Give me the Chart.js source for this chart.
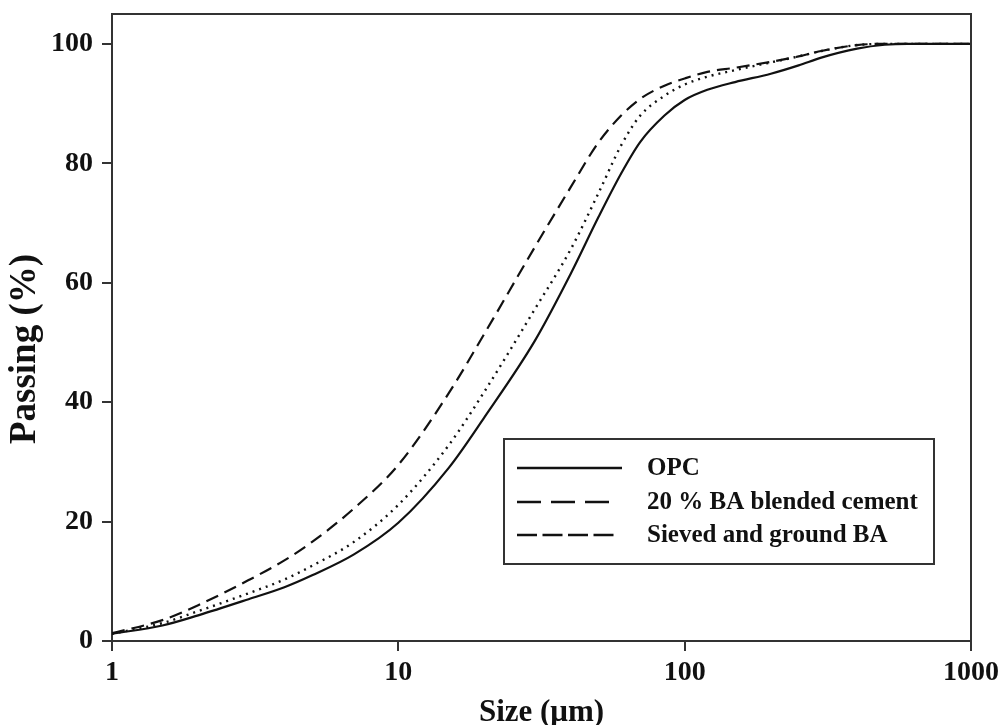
<!DOCTYPE html>
<html><head><meta charset="utf-8">
<script src="https://cdn.jsdelivr.net/npm/chart.js@4/dist/chart.umd.min.js"></script>
<style>html,body{margin:0;padding:0;background:#fff;overflow:hidden}</style>
</head><body>
<canvas id="c" width="1005" height="725"></canvas>
<script>
// ---- data ----
const sizes   = [1,1.5,2,3,4,5,7,10,15,20,30,40,50,60,70,85,100,120,150,200,250,300,400,500,600,1000];
const opc     = [1.2,2.6,4.3,7.0,9.0,11.0,14.5,19.8,29.0,37.5,50.3,61.5,71.0,78.3,83.6,88.0,90.6,92.3,93.6,95.0,96.4,97.7,99.2,99.85,100,100];
const blended = [1.3,3.5,6.0,10.2,13.5,16.6,22.2,29.5,41.5,51.5,66.0,76.0,83.5,88.0,90.8,93.0,94.2,95.3,96.0,97.0,97.9,98.8,99.8,100,100,100];
const sieved  = [1.2,3.0,5.0,8.0,10.3,12.6,16.6,22.8,32.8,41.8,55.6,65.6,75.0,83.0,88.0,91.3,93.2,94.5,95.6,96.9,97.9,98.8,99.8,100,100,100];
const seriesLabels = ['OPC','20 % BA blended cement','Sieved and ground BA'];
const xTickValues = [1,10,100,1000];
const yTickValues = [0,20,40,60,80,100];
const xTitle = 'Size (\u03bcm)';
const yTitle = 'Passing (%)';

const FONT = '"Liberation Serif","Times New Roman",serif';
const INK = '#111';
const AXIS = '#333';

const toPts = arr => arr.map((v,i)=>({x:sizes[i], y:v}));

const frameAndExtras = {
  id:'frameAndExtras',
  afterDraw(chart){
    const {ctx, chartArea:a} = chart;
    ctx.save();
    ctx.strokeStyle = AXIS; ctx.lineWidth = 2;
    ctx.beginPath();
    ctx.moveTo(a.left, a.top); ctx.lineTo(a.right, a.top); ctx.lineTo(a.right, a.bottom);
    ctx.stroke();
    ctx.translate(25, 349);
    ctx.rotate(-Math.PI/2);
    ctx.fillStyle = INK;
    ctx.font = 'bold 37px ' + FONT;
    ctx.textAlign = 'center'; ctx.textBaseline = 'middle';
    ctx.fillText(yTitle, 0, 0);
    ctx.restore();

    const lx = 504, ly = 439, lw = 430, lh = 125;
    ctx.save();
    ctx.strokeStyle = AXIS; ctx.lineWidth = 2;
    ctx.strokeRect(lx, ly, lw, lh);
    const rows = [468, 502, 535];
    const dashes = [[], [24,10], [20,5.5]];
    const ends = [622, 610, 615];
    ctx.font = 'bold 25px ' + FONT;
    ctx.textBaseline = 'middle'; ctx.textAlign = 'left';
    chart.data.datasets.forEach((ds, i) => {
      ctx.strokeStyle = INK; ctx.lineWidth = 2.5;
      ctx.setLineDash(dashes[i]);
      ctx.beginPath(); ctx.moveTo(517, rows[i]); ctx.lineTo(ends[i], rows[i]); ctx.stroke();
      ctx.setLineDash([]);
      ctx.fillStyle = INK;
      ctx.fillText(ds.label, 647, rows[i] + 1);
    });
    ctx.restore();
  }
};

new Chart(document.getElementById('c'), {
  type:'line',
  data:{
    datasets:[
      {label:seriesLabels[0], data:toPts(opc), borderColor:INK, borderWidth:2.2, borderDash:[]},
      {label:seriesLabels[1], data:toPts(blended), borderColor:INK, borderWidth:2.2, borderDash:[13,7]},
      {label:seriesLabels[2], data:toPts(sieved), borderColor:INK, borderWidth:2.4, borderDash:[2,5]}
    ]
  },
  options:{
    responsive:false,
    animation:false,
    devicePixelRatio:1,
    layout:{autoPadding:false, padding:{top:14, right:34, left:0, bottom:0}},
    elements:{point:{radius:0}, line:{cubicInterpolationMode:'monotone', fill:false}},
    plugins:{legend:{display:false}, tooltip:{enabled:false}},
    scales:{
      x:{
        type:'logarithmic', min:1, max:1000,
        afterBuildTicks: s => { s.ticks = xTickValues.map(v=>({value:v})); },
        afterFit: s => { s.height = 84; },
        ticks:{color:INK, font:{family:FONT, size:28, weight:'bold'}, padding:5, maxRotation:0,
               callback: v => String(v)},
        grid:{drawOnChartArea:false, drawTicks:true, tickLength:10, color:AXIS, lineWidth:2},
        border:{display:true, color:AXIS, width:2},
        title:{display:true, text:xTitle, color:INK, padding:0, font:{family:FONT, size:31, weight:'bold', lineHeight:0.77}}
      },
      y:{
        type:'linear', min:0, max:105,
        afterBuildTicks: s => { s.ticks = yTickValues.map(v=>({value:v})); },
        afterFit: s => { s.width = 112; s.paddingTop = 0; s.paddingBottom = 0; },
        ticks:{color:INK, font:{family:FONT, size:28, weight:'bold', lineHeight:0.8}, padding:9},
        grid:{drawOnChartArea:false, drawTicks:true, tickLength:10, color:AXIS, lineWidth:2},
        border:{display:true, color:AXIS, width:2}
      }
    }
  },
  plugins:[frameAndExtras]
});
</script>
</body></html>
